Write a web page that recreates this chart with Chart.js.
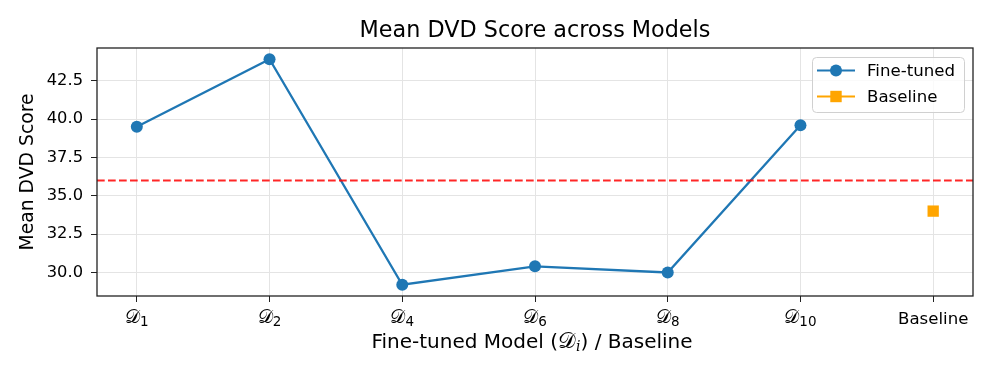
<!DOCTYPE html>
<html><head><meta charset="utf-8">
<script src="https://cdn.jsdelivr.net/npm/chart.js@4.4.0/dist/chart.umd.min.js"></script>
<style>html,body{margin:0;padding:0;background:#fff}#wrap{width:996px;height:377px}</style>
</head><body><div id="wrap"><canvas id="c" width="996" height="377"></canvas></div>
<script>
// ---- data ----
const categories = ['𝒟_1', '𝒟_2', '𝒟_4', '𝒟_6', '𝒟_8', '𝒟_10', 'Baseline'];
const fineTunedScores = [39.5, 43.9, 29.2, 30.4, 30.0, 39.6];
const baselineScores = [34.0];
const referenceLine = [36.0];
const yTicks = [30.0, 32.5, 35.0, 37.5, 40.0, 42.5];
const seriesNames = ['Fine-tuned', 'Baseline'];
const chartTitle = 'Mean DVD Score across Models';
const yTitle = 'Mean DVD Score';
const xTitleParts = ['Fine-tuned Model (', '𝒟_i', ') / Baseline'];

// ---- styling ----
const FONT = "'DejaVu Sans', sans-serif";
const MATH_FONT = "'DejaVu Serif', 'DejaVu Sans', serif";
const BLUE = '#1f77b4', ORANGE = '#ffa500';

const allY = fineTunedScores.concat(baselineScores);
const yLo = Math.min(...allY), yHi = Math.max(...allY);
const yPad = (yHi - yLo) * 0.05;
const xPad = (categories.length - 1) * 0.05;
const baseIndex = categories.indexOf('Baseline');

const fineData = fineTunedScores.map((v, i) => ({x: i, y: v}));
const baseData = baselineScores.map(v => ({x: baseIndex, y: v}));

function partsFor(label, mainSize, subSize, mathSize, subItalic) {
  const k = label.indexOf('_');
  if (k < 0) return [{t: label, f: `${mainSize}px ${FONT}`, dy: 0}];
  return [
    {t: label.slice(0, k), f: `${mathSize}px ${MATH_FONT}`, dy: 0},
    {t: label.slice(k + 1), f: `${subItalic ? 'italic ' : ''}${subSize}px ${subItalic ? MATH_FONT : FONT}`, dy: 3}
  ];
}
function drawParts(ctx, parts, cx, baseY) {
  let w = 0;
  parts.forEach(p => { ctx.font = p.f; p.w = ctx.measureText(p.t).width; w += p.w; });
  let x = cx - w / 2;
  ctx.textAlign = 'left'; ctx.textBaseline = 'alphabetic';
  parts.forEach(p => { ctx.font = p.f; ctx.fillText(p.t, x, baseY + p.dy); x += p.w; });
}

const overlay = {
  id: 'overlay',
  afterDatasetsDraw(chart) {
    const {ctx, chartArea: a, scales: {y}} = chart;
    ctx.save();
    ctx.strokeStyle = 'rgba(255,0,0,0.85)';
    ctx.lineWidth = 2;
    ctx.setLineDash([7.7, 3.3]);
    referenceLine.forEach(v => {
      const py = y.getPixelForValue(v);
      ctx.beginPath(); ctx.moveTo(a.left, py); ctx.lineTo(a.right, py); ctx.stroke();
    });
    ctx.restore();
  },
  afterDraw(chart) {
    const {ctx, chartArea: a, scales: {x}} = chart;
    ctx.save();
    // frame
    ctx.strokeStyle = '#222'; ctx.lineWidth = 1.3;
    ctx.strokeRect(a.left, a.top, a.right - a.left, a.bottom - a.top);
    // title centred over the axes
    ctx.fillStyle = '#000';
    ctx.font = `22.3px ${FONT}`; ctx.textAlign = 'center'; ctx.textBaseline = 'middle';
    ctx.fillText(chartTitle, (a.left + a.right) / 2, 31);
    // x tick labels
    categories.forEach((c, i) => {
      const px = x.getPixelForValue(i);
      const parts = partsFor(c, 16.6, 13.5, 19, false);
      drawParts(ctx, parts, px, c.indexOf('_') < 0 ? 324 : 322.5);
    });
    // x title
    const tparts = [];
    xTitleParts.forEach(s => partsFor(s, 20, 14, 22, true).forEach(p => tparts.push(p)));
    drawParts(ctx, tparts, (a.left + a.right) / 2 - 3, 348);
    // legend
    const lw = 152, lh = 55;
    const lx = a.right - 9 - lw, ly = a.top + 9;
    ctx.beginPath();
    ctx.roundRect(lx + 0.5, ly + 0.5, lw, lh, 4);
    ctx.fillStyle = 'rgba(255,255,255,0.8)'; ctx.fill();
    ctx.strokeStyle = '#d0d0d0'; ctx.lineWidth = 1; ctx.stroke();
    const colors = [BLUE, ORANGE];
    seriesNames.forEach((name, i) => {
      const ry = ly + 13.5 + i * 26;
      ctx.strokeStyle = colors[i]; ctx.lineWidth = 2.2;
      ctx.beginPath(); ctx.moveTo(lx + 5, ry); ctx.lineTo(lx + 43, ry); ctx.stroke();
      ctx.fillStyle = colors[i];
      if (i === 0) { ctx.beginPath(); ctx.arc(lx + 24, ry, 6, 0, Math.PI * 2); ctx.fill(); }
      else { ctx.fillRect(lx + 24 - 5.7, ry - 5.7, 11.4, 11.4); }
      ctx.fillStyle = '#000'; ctx.font = `16.6px ${FONT}`;
      ctx.textAlign = 'left'; ctx.textBaseline = 'middle';
      ctx.fillText(name, lx + 55, ry + 1);
    });
    ctx.restore();
  }
};

new Chart(document.getElementById('c'), {
  type: 'line',
  data: {
    datasets: [
      {label: seriesNames[0], data: fineData, borderColor: BLUE, backgroundColor: BLUE,
       borderWidth: 2.3, pointRadius: 6, pointHoverRadius: 6, pointBorderWidth: 0,
       pointStyle: 'circle', tension: 0, fill: false},
      {label: seriesNames[1], data: baseData, borderColor: ORANGE, backgroundColor: ORANGE,
       borderWidth: 2, pointRadius: 8, pointHoverRadius: 8, pointBorderWidth: 0,
       pointStyle: 'rect', showLine: false}
    ]
  },
  options: {
    responsive: false, animation: false, devicePixelRatio: 1,
    layout: {padding: {left: 0, right: 23, top: 0, bottom: 0}},
    plugins: {
      legend: {display: false}, tooltip: {enabled: false},
      title: {display: true, text: chartTitle, color: 'rgba(0,0,0,0)',
              font: {family: FONT, size: 22, weight: 'normal'}, padding: {top: 18, bottom: 3.6}}
    },
    scales: {
      x: {type: 'linear', min: -xPad, max: categories.length - 1 + xPad,
          afterBuildTicks: s => { s.ticks = categories.map((c, i) => ({value: i})); },
          afterFit: s => { s.height = 81; },
          ticks: {callback: () => '', autoSkip: false},
          grid: {color: '#e4e4e4', lineWidth: 1, tickColor: '#222', tickLength: 6},
          border: {display: false}},
      y: {type: 'linear', min: yLo - yPad, max: yHi + yPad,
          afterBuildTicks: s => { s.ticks = yTicks.map(v => ({value: v})); },
          afterFit: s => { s.width = 97; },
          ticks: {callback: v => Number(v).toFixed(1), color: '#000', padding: 8,
                  font: {family: FONT, size: 16.3}},
          grid: {color: '#e4e4e4', lineWidth: 1, tickColor: '#222', tickLength: 6},
          border: {display: false},
          title: {display: true, text: yTitle, color: '#000',
                  font: {family: FONT, size: 18.8}, padding: {top: 17, bottom: 0}}}
    }
  },
  plugins: [overlay]
});
</script></body></html>
